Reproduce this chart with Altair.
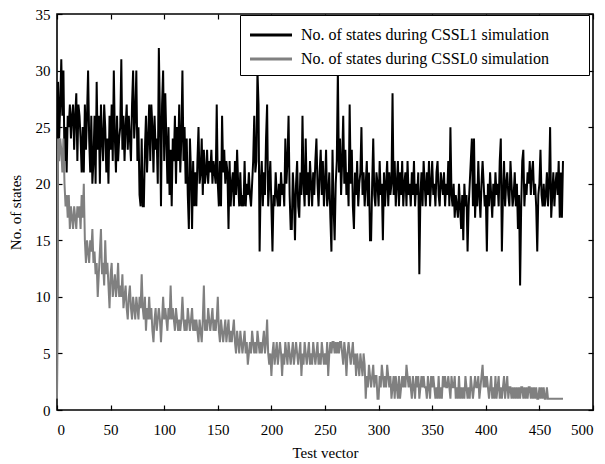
import altair as alt
import pandas as pd

label1 = "No. of states during CSSL1 simulation"
label0 = "No. of states during CSSL0 simulation"

x_ticks = [0, 50, 100, 150, 200, 250, 300, 350, 400, 450, 500]
y_ticks = [0, 5, 10, 15, 20, 25, 30, 35]

cssl1 = [
    1, 29, 24, 27, 31, 26, 30, 22, 25, 21,
    26, 25, 27, 24, 26, 27, 23, 26, 28, 22,
    27, 26, 24, 21, 25, 21, 27, 23, 26, 30,
    24, 21, 26, 20, 22, 26, 20, 29, 23, 26,
    20, 27, 24, 22, 27, 25, 21, 24, 20, 26,
    23, 27, 22, 30, 24, 21, 26, 22, 24, 25,
    31, 23, 26, 22, 25, 27, 23, 26, 24, 22,
    27, 30, 24, 26, 30, 22, 25, 19, 18, 24,
    18, 18, 23, 26, 21, 24, 27, 22, 27, 25,
    21, 26, 23, 24, 20, 32, 26, 18, 27, 30,
    22, 28, 24, 20, 25, 19, 23, 18, 24, 22,
    26, 20, 25, 22, 27, 21, 24, 30, 22, 25,
    20, 24, 19, 16, 24, 21, 16, 22, 18, 21,
    18, 22, 25, 20, 21, 24, 19, 23, 20, 21,
    23, 20, 22, 21, 23, 20, 22, 21, 20, 27,
    20, 18, 22, 18, 26, 21, 23, 20, 22, 21,
    16, 22, 18, 20, 21, 18, 22, 19, 23, 20,
    18, 21, 18, 19, 18, 22, 18, 20, 19, 21,
    19, 18, 20, 22, 26, 21, 22, 30, 27, 14,
    20, 22, 18, 21, 19, 24, 27, 18, 20, 22,
    18, 14, 19, 18, 21, 19, 18, 20, 18, 21,
    19, 20, 18, 24, 20, 22, 26, 19, 16, 16,
    21, 19, 15, 20, 22, 18, 17, 21, 19, 26,
    20, 18, 24, 19, 21, 18, 22, 20, 18, 21,
    19, 22, 24, 20, 18, 21, 23, 19, 22, 18,
    20, 23, 18, 19, 21, 17, 14, 23, 18, 15,
    20, 22, 30, 21, 24, 19, 22, 26, 20, 23,
    19, 21, 18, 27, 20, 23, 18, 16, 21, 19,
    22, 18, 20, 21, 25, 19, 21, 18, 20, 22,
    18, 21, 15, 15, 20, 24, 19, 18, 21, 20,
    18, 22, 19, 20, 15, 21, 18, 20, 22, 18,
    21, 19, 20, 28, 19, 22, 18, 20, 22, 18,
    21, 19, 22, 18, 20, 21, 18, 22, 19, 20,
    18, 21, 19, 22, 18, 20, 19, 21, 12, 19,
    21, 18, 22, 20, 18, 21, 19, 22, 18, 20,
    22, 19, 20, 18, 21, 22, 19, 18, 21, 20,
    19, 21, 18, 20, 19, 22, 18, 25, 19, 18,
    20, 17, 19, 18, 17, 20, 18, 16, 19, 15,
    20, 18, 19, 14, 18, 20, 22, 24, 18, 24,
    17, 20, 18, 22, 19, 17, 20, 22, 20, 18,
    19, 14, 20, 18, 21, 19, 17, 20, 18, 21,
    19, 20, 18, 22, 24, 14, 19, 22, 18, 20,
    21, 19, 18, 22, 20, 18, 19, 21, 18, 20,
    16, 19, 11, 18, 22, 23, 18, 20, 19, 21,
    20, 22, 19, 21, 22, 19, 20, 18, 14, 19,
    20, 23, 19, 18, 20, 18, 19, 21, 18, 20,
    25, 17, 19, 21, 18, 20, 21, 19, 22, 17,
    21, 17, 22,
]

cssl0 = [
    1, 24, 22, 24, 23, 21, 24, 20, 18, 19,
    17, 19, 16, 18, 17, 16, 18, 17, 16, 18,
    17, 18, 16, 19, 17, 20, 15, 13, 15, 14,
    13, 15, 14, 16, 13, 14, 12, 13, 10, 12,
    14, 16, 12, 13, 11, 15, 12, 13, 11, 9,
    12, 13, 10, 11, 12, 10, 11, 13, 10, 11,
    10, 12, 9, 10, 11, 9, 8, 10, 11, 9,
    8, 10, 9, 8, 10, 9, 8, 10, 9, 12,
    9, 8, 10, 7, 9, 8, 10, 8, 9, 7,
    6, 8, 9, 7, 8, 9, 8, 6, 8, 10,
    8, 9, 8, 7, 9, 8, 11, 8, 9, 8,
    7, 9, 8, 7, 8, 7, 8, 10, 8, 7,
    8, 7, 9, 8, 7, 8, 9, 7, 8, 7,
    8, 7, 6, 8, 7, 6, 8, 11, 7, 8,
    7, 9, 8, 7, 8, 9, 7, 8, 7, 8,
    10, 7, 6, 8, 7, 6, 7, 8, 6, 7,
    8, 6, 7, 6, 7, 8, 6, 5, 7, 6,
    5, 7, 6, 5, 6, 7, 5, 6, 4, 5,
    6, 5, 7, 6, 5, 6, 5, 7, 6, 5,
    6, 5, 6, 7, 5, 6, 8, 5, 4, 5,
    3, 5, 6, 4, 5, 6, 4, 5, 6, 5,
    3, 5, 4, 6, 5, 4, 6, 5, 4, 5,
    6, 4, 5, 6, 5, 4, 5, 6, 3, 5,
    4, 6, 5, 4, 5, 6, 4, 5, 4, 6,
    5, 4, 5, 6, 4, 5, 4, 6, 5, 4,
    5, 4, 6, 3, 5, 6, 5, 6, 6, 5,
    6, 5, 6, 5, 6, 6, 5, 4, 6, 5,
    3, 5, 6, 5, 4, 5, 6, 4, 5, 3,
    5, 4, 3, 5, 4, 3, 5, 4, 1, 3,
    2, 4, 3, 2, 3, 4, 2, 3, 3, 1,
    1, 3, 2, 4, 3, 2, 3, 2, 4, 3,
    2, 3, 1, 2, 3, 1, 3, 2, 1, 3,
    1, 2, 3, 2, 3, 2, 4, 3, 2, 3,
    2, 1, 3, 2, 1, 3, 2, 3, 1, 2,
    3, 2, 3, 2, 2, 1, 3, 2, 1, 3,
    2, 3, 2, 1, 2, 1, 3, 1, 2, 1,
    3, 2, 3, 2, 2, 3, 2, 1, 3, 2,
    2, 3, 1, 2, 1, 3, 1, 2, 1, 2,
    1, 3, 2, 1, 2, 1, 3, 2, 1, 2,
    3, 2, 2, 3, 1, 2, 3, 4, 2, 3,
    2, 3, 2, 1, 2, 3, 1, 2, 1, 3,
    1, 2, 3, 1, 2, 1, 2, 3, 1, 2,
    3, 1, 2, 2, 1, 2, 1, 2, 1, 2,
    1, 2, 1, 2, 2, 1, 2, 1, 2, 1,
    2, 2, 1, 2, 1, 2, 1, 2, 1, 1,
    2, 1, 2, 1, 2, 1, 1, 2, 1, 1,
    1, 1, 1, 1, 1, 1, 1, 1, 1, 1,
    1, 1, 1,
]

rows = []
for i, v in enumerate(cssl1):
    rows.append({"x": i, "y": v, "series": label1})
for i, v in enumerate(cssl0):
    rows.append({"x": i, "y": v, "series": label0})
df = pd.DataFrame(rows)

FONT = "Liberation Serif"
xscale = alt.Scale(domain=[0, 500], nice=False, zero=False)
yscale = alt.Scale(domain=[0, 35], nice=False, zero=False)
cscale = alt.Scale(domain=[label1, label0], range=["#000000", "#808080"])

common_axis = dict(
    domain=False, grid=False, tickSize=5, offset=-5, tickColor="black",
    tickWidth=1.2, labelFont=FONT, labelFontSize=15, labelColor="black",
    titleFont=FONT, titleFontSize=15, titleColor="black", titleFontWeight="normal",
)

x_bottom = alt.Axis(orient="bottom", values=x_ticks, labelPadding=12,
                    title="Test vector", titlePadding=8, **common_axis)
y_left = alt.Axis(orient="left", values=y_ticks, labelPadding=7,
                  title="No. of states", titlePadding=12, **common_axis)
x_top = alt.Axis(orient="top", values=x_ticks, labels=False, title=None,
                 domain=False, grid=False, tickSize=5, offset=-5,
                 tickColor="black", tickWidth=1.2)
y_right = alt.Axis(orient="right", values=y_ticks, labels=False, title=None,
                   domain=False, grid=False, tickSize=5, offset=-5,
                   tickColor="black", tickWidth=1.2)

legend = alt.Legend(
    title="\u00a0", titleOrient="right", titlePadding=32,
    orient="none", legendX=183, legendY=1, direction="vertical",
    symbolType="M-2,0H2", symbolSize=441, symbolStrokeWidth=3,
    symbolOffset=11,
    labelFont=FONT, labelFontSize=16, labelColor="black", labelOffset=18,
    padding=8, rowPadding=4, strokeColor="black", fillColor="white",
    labelLimit=400,
)

base = alt.Chart(df)

line1 = base.transform_filter(alt.datum.series == label1).mark_line(
    strokeWidth=2, strokeJoin="miter"
).encode(
    x=alt.X("x:Q", scale=xscale, axis=x_bottom),
    y=alt.Y("y:Q", scale=yscale, axis=y_left),
    color=alt.Color("series:N", scale=cscale, legend=legend),
)

line0 = base.transform_filter(alt.datum.series == label0).mark_line(
    strokeWidth=2, strokeJoin="miter"
).encode(
    x=alt.X("x:Q", scale=xscale, axis=None),
    y=alt.Y("y:Q", scale=yscale, axis=None),
    color=alt.Color("series:N", scale=cscale, legend=legend),
)

frame_axes = base.transform_filter(alt.datum.series == label0).mark_point(
    opacity=0
).encode(
    x=alt.X("x:Q", scale=xscale, axis=x_top),
    y=alt.Y("y:Q", scale=yscale, axis=y_right),
)

chart = alt.layer(line1, line0, frame_axes).resolve_axis(
    x="independent", y="independent"
).properties(
    width=536, height=396,
    padding={"left": 49, "top": 6, "right": 4, "bottom": 52},
    autosize=alt.AutoSizeParams(type="none"),
    background="white",
).configure_view(stroke="black", strokeWidth=1.6)

chart.save("out.html", embed_options={"renderer": "svg", "actions": False})
